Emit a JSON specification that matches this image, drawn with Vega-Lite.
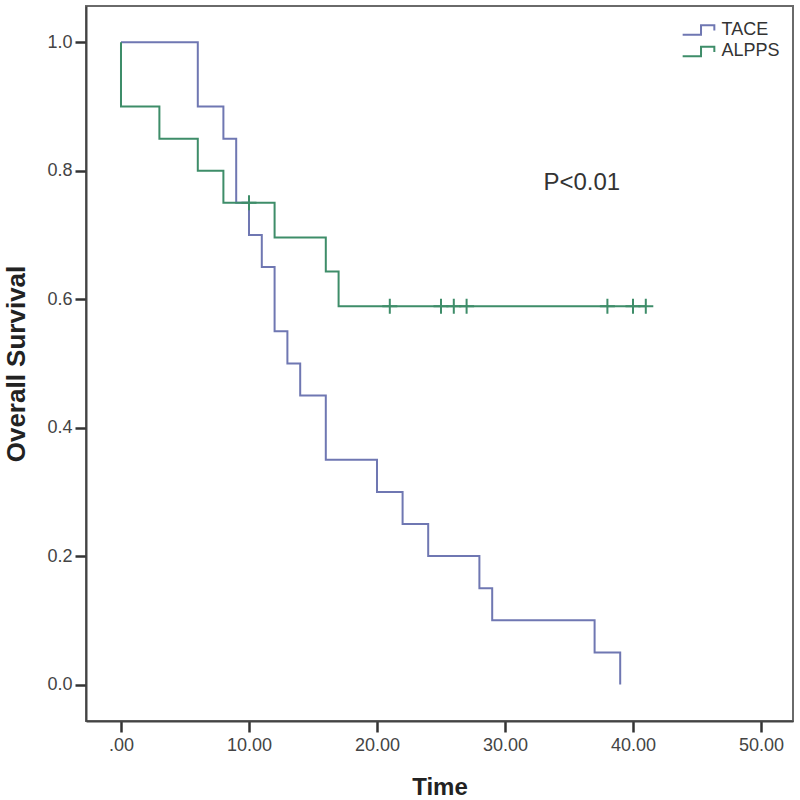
{
  "$schema": "https://vega.github.io/schema/vega-lite/v6.json",
  "width": 707,
  "height": 715,
  "autosize": {"type": "none"},
  "padding": {"left": 86, "top": 6, "right": 7, "bottom": 79},
  "background": "white",
  "config": {
    "font": "Liberation Sans",
    "view": {"stroke": "#6a6a6a", "strokeWidth": 2},
    "axis": {"grid": false, "ticks": true, "tickSize": 11, "tickWidth": 2.5, "tickColor": "#333", "tickOpacity": 1}
  },
  "datasets": {
    "curves": [
      {"group": "TACE", "idx": 0, "time": 0, "survival": 1.0},
      {"group": "TACE", "idx": 1, "time": 6, "survival": 0.9},
      {"group": "TACE", "idx": 2, "time": 8, "survival": 0.85},
      {"group": "TACE", "idx": 3, "time": 9, "survival": 0.75},
      {"group": "TACE", "idx": 4, "time": 10, "survival": 0.70},
      {"group": "TACE", "idx": 5, "time": 11, "survival": 0.65},
      {"group": "TACE", "idx": 6, "time": 12, "survival": 0.55},
      {"group": "TACE", "idx": 7, "time": 13, "survival": 0.50},
      {"group": "TACE", "idx": 8, "time": 14, "survival": 0.45},
      {"group": "TACE", "idx": 9, "time": 16, "survival": 0.35},
      {"group": "TACE", "idx": 10, "time": 20, "survival": 0.30},
      {"group": "TACE", "idx": 11, "time": 22, "survival": 0.25},
      {"group": "TACE", "idx": 12, "time": 24, "survival": 0.20},
      {"group": "TACE", "idx": 13, "time": 28, "survival": 0.15},
      {"group": "TACE", "idx": 14, "time": 29, "survival": 0.10},
      {"group": "TACE", "idx": 15, "time": 37, "survival": 0.05},
      {"group": "TACE", "idx": 16, "time": 39, "survival": 0.0},
      {"group": "ALPPS", "idx": 0, "time": 0, "survival": 1.0},
      {"group": "ALPPS", "idx": 1, "time": 0, "survival": 0.9},
      {"group": "ALPPS", "idx": 2, "time": 3, "survival": 0.85},
      {"group": "ALPPS", "idx": 3, "time": 6, "survival": 0.80},
      {"group": "ALPPS", "idx": 4, "time": 8, "survival": 0.75},
      {"group": "ALPPS", "idx": 5, "time": 12, "survival": 0.696},
      {"group": "ALPPS", "idx": 6, "time": 16, "survival": 0.643},
      {"group": "ALPPS", "idx": 7, "time": 17, "survival": 0.589},
      {"group": "ALPPS", "idx": 8, "time": 41, "survival": 0.589}
    ],
    "censored": [
      {"group": "ALPPS", "time": 10, "survival": 0.75},
      {"group": "ALPPS", "time": 21, "survival": 0.589},
      {"group": "ALPPS", "time": 25, "survival": 0.589},
      {"group": "ALPPS", "time": 26, "survival": 0.589},
      {"group": "ALPPS", "time": 27, "survival": 0.589},
      {"group": "ALPPS", "time": 38, "survival": 0.589},
      {"group": "ALPPS", "time": 40, "survival": 0.589},
      {"group": "ALPPS", "time": 41, "survival": 0.589}
    ],
    "notes": [
      {"time": 36, "survival": 0.781, "label": "P<0.01"}
    ]
  },
  "encoding": {
    "x": {
      "field": "time", "type": "quantitative",
      "scale": {"domain": [-2.734, 52.5], "nice": false, "zero": false},
      "axis": {
        "title": "Time",
        "values": [0, 10, 20, 30, 40, 50],
        "labelExpr": "datum.value == 0 ? '.00' : format(datum.value, '.2f')",
        "labelFontSize": 18, "labelColor": "#444", "labelPadding": 4,
        "domainColor": "#444", "domainWidth": 2,
        "titleFontSize": 24, "titleFontWeight": "bold", "titleColor": "#222", "titlePadding": 21
      }
    },
    "y": {
      "field": "survival", "type": "quantitative",
      "scale": {"domain": [-0.0567, 1.0565], "nice": false, "zero": false},
      "axis": {
        "title": "Overall Survival",
        "values": [0, 0.2, 0.4, 0.6, 0.8, 1.0],
        "format": ".1f",
        "labelFontSize": 18, "labelColor": "#444", "labelPadding": 3,
        "domainColor": "#444", "domainWidth": 2,
        "titleFontSize": 26, "titleFontWeight": "bold", "titleColor": "#222", "titlePadding": 17
      }
    }
  },
  "layer": [
    {
      "data": {"name": "curves"},
      "mark": {"type": "line", "interpolate": "step-after", "strokeWidth": 2},
      "encoding": {
        "color": {
          "field": "group", "type": "nominal",
          "scale": {"domain": ["TACE", "ALPPS"], "range": ["#6f77b2", "#3e8d69"]},
          "legend": {
            "title": null,
            "orient": "none",
            "legendX": 600.5,
            "legendY": 12,
            "padding": 0,
            "symbolType": "M-1.44,0.43L0.23,0.43L0.23,-0.43L1.44,-0.43L1.44,0.05",
            "symbolSize": 484,
            "symbolStrokeWidth": 2,
            "symbolFillColor": "transparent",
            "labelFontSize": 18,
            "labelColor": "#333",
            "labelOffset": 11,
            "rowPadding": 0.4
          }
        },
        "order": {"field": "idx", "type": "quantitative"}
      }
    },
    {
      "data": {"name": "censored"},
      "mark": {"type": "point", "shape": "M-1,0L1,0M0,-1L0,1", "filled": false, "size": 225, "strokeWidth": 2, "color": "#3e8d69", "opacity": 1}
    },
    {
      "data": {"name": "notes"},
      "mark": {"type": "text", "fontSize": 24, "color": "#333", "align": "center", "baseline": "middle"},
      "encoding": {"text": {"field": "label"}}
    }
  ]
}
